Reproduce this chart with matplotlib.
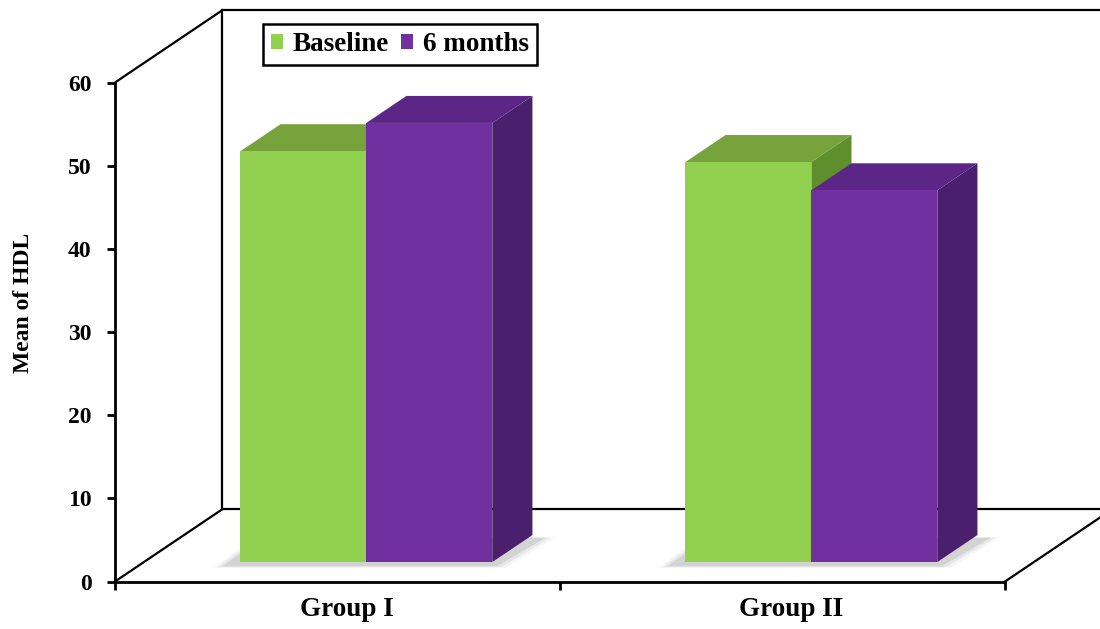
import matplotlib
matplotlib.use('Agg')
import matplotlib.pyplot as plt
from matplotlib.patches import Polygon, Patch
import numpy as np

plt.rcParams['font.family'] = ['Liberation Serif', 'DejaVu Serif']
plt.rcParams['font.weight'] = 'bold'

groups = ['Group I', 'Group II']
series = ['Baseline', '6 months']
baseline = [49.4, 48.1]
six_months = [52.8, 44.7]

front_colors = ['#92D050', '#7030A0']
top_colors = ['#77A33D', '#5C2686']
side_colors = ['#5F8E2D', '#4A1F6C']

# oblique depth of the floor box, in data units (x: categories, y: values)
DEPTH_X = 0.2404
DEPTH_Y = 8.66
BAR_W = 0.283
BAR_FRONT = 0.27    # share of floor depth where the bar fronts stand
BAR_DEPTH = 0.375   # share of floor depth taken by a bar
YMAX = 60

fig = plt.figure(figsize=(11, 6.29), dpi=100)
ax = fig.add_axes([0, 0, 1, 1])
ax.set_xlim(-0.7584, 1.7135)
ax.set_ylim(-5.71, 69.92)
ax.patch.set_visible(False)

x0, x1 = -0.5, len(groups) - 0.5

# walls and floor of the box
frame = dict(color='black', lw=1.6, zorder=1)
ax.plot([x0, x0 + DEPTH_X], [YMAX, YMAX + DEPTH_Y], **frame)
ax.plot([x0, x0 + DEPTH_X], [0, DEPTH_Y], **frame)
ax.plot([x0 + DEPTH_X] * 2, [DEPTH_Y, YMAX + DEPTH_Y], **frame)
ax.plot([x0 + DEPTH_X, x1 + DEPTH_X], [YMAX + DEPTH_Y] * 2, **frame)
ax.plot([x0 + DEPTH_X, x1 + DEPTH_X], [DEPTH_Y] * 2, **frame)
ax.plot([x1, x1 + DEPTH_X], [0, DEPTH_Y], **frame)

fx, fy = BAR_FRONT * DEPTH_X, BAR_FRONT * DEPTH_Y
bx, by = BAR_DEPTH * DEPTH_X, BAR_DEPTH * DEPTH_Y
pos = np.arange(len(groups))

# soft shadow on the floor under each pair of bars
for p in pos:
    l, r = p + fx - BAR_W, p + fx + BAR_W
    for k, a in zip([0.03, 0.02, 0.01], [0.08, 0.12, 0.18]):
        ax.add_patch(Polygon([(l - 0.03 - k, fy - 0.4 - k * 10),
                              (r + k, fy - 0.4 - k * 10),
                              (r + bx + 0.02 + k, fy + by - 0.3),
                              (l + bx - 0.03 - k, fy + by - 0.3)],
                             closed=True, facecolor='#808080', edgecolor='none',
                             alpha=a, zorder=2))

for i, vals in enumerate([baseline, six_months]):
    lefts = pos + fx - BAR_W + i * BAR_W
    for l, v in zip(lefts, vals):
        r = l + BAR_W
        ax.add_patch(Polygon([(r, fy), (r + bx, fy + by), (r + bx, fy + by + v), (r, fy + v)],
                             closed=True, facecolor=side_colors[i], edgecolor='none',
                             zorder=3 + i))
        ax.add_patch(Polygon([(l, fy + v), (l + bx, fy + v + by), (r + bx, fy + v + by), (r, fy + v)],
                             closed=True, facecolor=top_colors[i], edgecolor='none',
                             zorder=3 + i))
    ax.bar(lefts, vals, width=BAR_W, bottom=fy, align='edge', color=front_colors[i],
           edgecolor='none', zorder=3.5 + i)

# front axes
for s in ['top', 'right']:
    ax.spines[s].set_visible(False)
ax.spines['left'].set_position(('data', x0))
ax.spines['left'].set_bounds(0, YMAX)
ax.spines['bottom'].set_position(('data', 0))
ax.spines['bottom'].set_bounds(x0, x1)
for s in ['left', 'bottom']:
    ax.spines[s].set_linewidth(2)
    ax.spines[s].set_zorder(6)

ax.set_yticks(range(0, YMAX + 1, 10))
ax.set_xticks([x0, 0.5, x1])
ax.set_xticklabels([])
ax.set_xticks(pos + 0.02, minor=True)
ax.set_xticklabels(groups, minor=True)
ax.tick_params(axis='x', which='major', length=6, width=2, direction='out')
ax.tick_params(axis='x', which='minor', length=0, pad=11, labelsize=19.5)
ax.tick_params(axis='y', length=6, width=2, pad=11, labelsize=17)

ax.set_ylabel('Mean of HDL', fontsize=17, fontweight='bold')
ax.yaxis.set_label_coords(0.031, 0.518)

handles = [Patch(facecolor=c, edgecolor='none') for c in front_colors]
leg = ax.legend(handles, series, ncol=2, loc='upper left',
                bbox_to_anchor=(263 / 1100, 1 - 24 / 629), bbox_transform=fig.transFigure,
                fontsize=19.5, frameon=True, fancybox=False, edgecolor='black', framealpha=1,
                handlelength=0.45, handleheight=0.45, handletextpad=0.35,
                columnspacing=0.45, borderpad=0.3, borderaxespad=0)
leg.get_frame().set_linewidth(1.8)
leg.set_zorder(7)

fig.savefig('out.png', dpi=100)
